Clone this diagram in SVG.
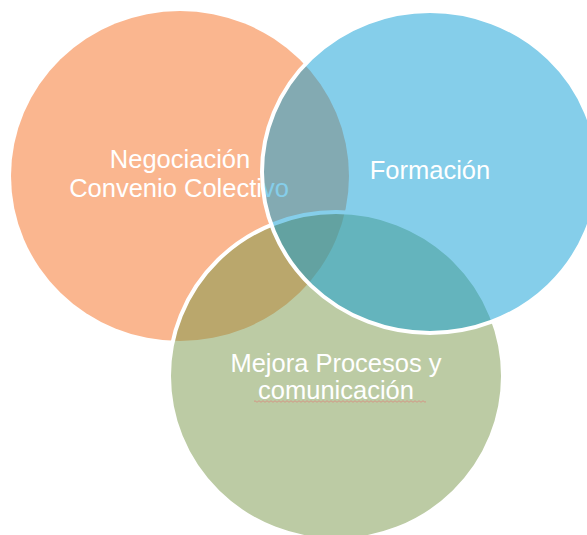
<svg xmlns="http://www.w3.org/2000/svg" width="587" height="535" viewBox="0 0 587 535">
<style>
.lbl{font-family:"Liberation Sans",Arial,sans-serif;font-size:25.5px;fill:#ffffff;text-anchor:middle}
.ring{stroke:#ffffff;stroke-width:4}
</style>
<rect width="587" height="535" fill="#ffffff"/>
<g id="node-negociacion">
<ellipse cx="180" cy="176" rx="169" ry="165" fill="#FAB68F"/>
<text class="lbl" x="180" y="168">Negociación</text>
<text class="lbl" x="179" y="197">Convenio Colectivo</text>
</g>
<g id="node-mejora">
<ellipse class="ring" cx="336" cy="376" rx="167" ry="164" fill="#799749" fill-opacity="0.5"/>
<text class="lbl" x="336" y="372">Mejora Procesos y</text>
<text class="lbl" x="336" y="399">comunicación</text>
<path d="M254 401.5 q1 -1.5 2 0 t2 0 t2 0 t2 0 t2 0 t2 0 t2 0 t2 0 t2 0 t2 0 t2 0 t2 0 t2 0 t2 0 t2 0 t2 0 t2 0 t2 0 t2 0 t2 0 t2 0 t2 0 t2 0 t2 0 t2 0 t2 0 t2 0 t2 0 t2 0 t2 0 t2 0 t2 0 t2 0 t2 0 t2 0 t2 0 t2 0 t2 0 t2 0 t2 0 t2 0 t2 0 t2 0 t2 0 t2 0 t2 0 t2 0 t2 0 t2 0 t2 0 t2 0 t2 0 t2 0 t2 0 t2 0 t2 0 t2 0 t2 0 t2 0 t2 0 t2 0 t2 0 t2 0 t2 0 t2 0 t2 0 t2 0 t2 0 t2 0 t2 0 t2 0 t2 0 t2 0 t2 0 t2 0 t2 0 t2 0 t2 0 t2 0 t2 0 t2 0 t2 0 t2 0 t2 0 t2 0 t2 0" fill="none" stroke="#D98A7E" stroke-width="0.8"/>
</g>
<g id="node-formacion">
<ellipse class="ring" cx="430" cy="172" rx="168" ry="161" fill="#0B9DD5" fill-opacity="0.5"/>
<text class="lbl" x="430" y="179">Formación</text>
</g>
<g id="connectors"></g>
</svg>
